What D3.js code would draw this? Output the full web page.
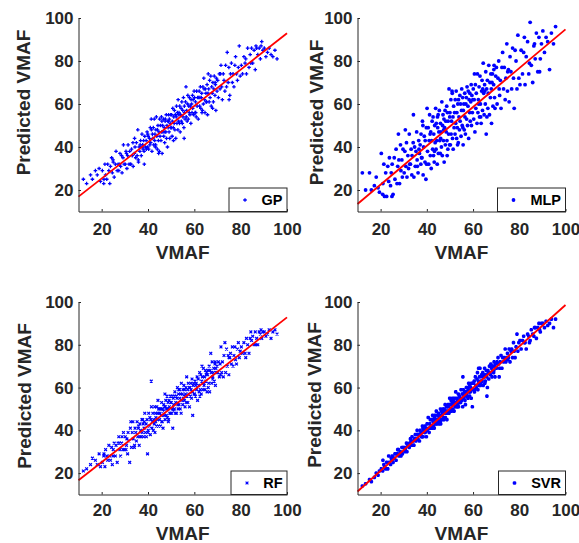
<!DOCTYPE html>
<html><head><meta charset="utf-8">
<script src="https://cdn.jsdelivr.net/npm/d3@7"></script>
<style>
body{margin:0;background:#fff}
svg{display:block}
text{font-family:"Liberation Sans",Arial,Helvetica,sans-serif;font-weight:bold}
</style>
</head><body>
<svg id="chart" width="579" height="543"></svg>
<script>
// ---- data ----
const vmaf = [
12.1,13.5,15.2,16.0,17.3,18.1,18.9,19.5,
20.3,20.9,21.4,21.7,22.2,22.6,23.1,23.5,23.8,24.3,24.6,25.0,25.4,25.9,26.2,26.7,27.1,27.4,27.9,28.2,28.6,28.8,29.2,29.4,29.7,21.0,24.9,27.7,
30.2,30.5,30.9,31.2,31.4,31.8,32.1,32.4,32.9,33.2,33.5,33.6,34.1,34.4,34.7,35.0,35.3,35.6,35.8,36.2,36.5,36.8,37.1,37.4,37.5,37.9,38.1,38.4,38.6,38.9,39.2,39.3,39.6,39.8,30.7,32.6,34.2,35.9,36.6,37.7,38.3,39.9,
40.1,40.3,40.6,40.8,41.0,41.2,41.5,41.7,41.9,42.1,42.3,42.5,42.7,42.9,43.0,43.2,43.4,43.6,43.8,44.0,44.1,44.3,44.5,44.7,44.9,45.0,45.2,45.4,45.6,45.8,45.9,46.1,46.3,46.5,46.7,46.8,47.0,47.2,47.4,47.5,47.7,47.9,48.0,48.2,48.4,48.6,48.7,48.9,49.1,49.2,49.4,49.6,49.8,49.9,41.4,43.3,44.6,46.0,47.3,48.8,
50.0,50.2,50.4,50.5,50.7,50.9,51.1,51.3,51.4,51.6,51.8,52.0,52.2,52.3,52.5,52.7,52.9,53.0,53.2,53.4,53.6,53.7,53.9,54.1,54.3,54.4,54.6,54.8,55.0,55.1,55.3,55.5,55.7,55.8,56.0,56.2,56.4,56.5,56.7,56.9,57.1,57.2,57.4,57.6,57.8,57.9,58.1,58.3,58.5,58.6,58.8,59.0,59.2,59.3,59.5,59.7,59.9,51.0,53.3,55.6,
60.1,60.3,60.5,60.8,61.0,61.2,61.4,61.7,61.9,62.1,62.3,62.6,62.8,63.0,63.2,63.5,63.7,63.9,64.1,64.4,64.6,64.8,65.0,65.3,65.5,65.7,65.9,66.2,66.4,66.6,66.8,67.1,67.3,67.5,67.7,68.0,68.2,68.4,68.6,68.9,69.1,69.3,69.5,69.8,60.6,62.4,63.3,64.2,65.1,66.0,67.9,69.0,
70.1,70.4,70.8,71.1,71.5,71.8,72.1,72.5,72.8,73.2,73.5,73.9,74.2,74.6,74.9,75.3,75.6,76.0,76.4,76.7,77.1,77.5,77.8,78.2,78.6,79.0,79.4,79.8,71.3,75.0,
80.3,80.8,81.4,81.9,82.5,83.0,83.6,84.1,84.7,85.2,85.8,86.3,86.9,87.4,88.0,88.5,89.1,89.6,82.2,84.4,86.6,88.8,
90.2,90.9,91.6,92.3,93.1,93.9,94.8,95.7
];
const gpPred = [
25,23,27,25,29,27,30,24,
29,23,32,27,25,32,29,23,31,35,28,33,26,32,38,29,32,29,37,31,36,28,35,41,32,25,34,32,
32,38,30,36,41,32,38,32,39,36,42,31,37,40,35,42,36,48,34,40,38,43,36,46,40,39,43,32,45,40,43,39,47,40,37,32,44,33,41,41,38,46,
45,39,44,41,49,42,48,38,46,44,49,41,53,43,46,40,48,54,45,39,48,50,43,47,38,53,45,50,43,54,47,37,50,47,53,45,49,42,52,53,47,55,44,50,40,52,49,55,47,53,44,51,55,49,53,41,37,52,47,52,
49,55,45,52,58,49,54,51,57,48,55,44,54,59,51,56,48,62,52,56,51,59,47,55,58,52,61,51,57,54,63,49,59,56,53,61,68,54,57,52,60,64,53,59,56,63,55,59,51,62,60,56,64,58,62,55,66,43,55,44,
63,56,61,54,66,59,63,53,63,66,59,68,58,63,65,57,68,60,72,62,56,67,65,61,69,55,65,67,61,71,63,73,59,68,65,70,61,67,73,64,69,57,72,66,56,63,56,67,61,74,58,70,
71,63,74,67,78,68,62,74,71,66,78,68,84,70,77,64,74,79,70,74,68,78,82,74,71,77,87,73,74,62,
78,74,82,79,74,86,77,83,86,79,85,76,86,83,86,81,89,85,81,79,87,87,
86,82,84,86,83,82,85,81
];
const mlpPred = [
28,20,28,20,22,26,21,19,
37,18,32,17,28,17,31,24,35,22,28,32,18,35,25,39,23,31,34,23,41,29,34,26,39,23,17,46,
28,38,31,42,26,36,30,46,32,39,27,36,42,26,40,31,38,47,34,28,43,37,41,32,46,35,52,27,40,45,33,43,25,49,48,32,55,31,39,35,50,32,
58,38,49,32,43,55,36,47,30,43,52,39,54,36,46,33,50,42,58,39,51,43,32,49,55,37,47,57,43,37,51,47,40,61,36,50,55,43,53,33,49,57,41,52,47,59,43,56,39,52,46,67,41,54,46,38,54,44,48,36,
56,41,62,46,52,66,44,54,39,59,49,56,46,62,51,66,44,56,49,60,42,62,54,48,64,52,60,45,57,67,50,63,41,57,60,48,65,54,46,60,63,53,68,50,59,66,44,62,56,65,52,61,69,50,64,56,62,65,41,49,
67,53,62,47,69,58,65,51,74,56,62,68,54,73,60,51,66,71,57,79,65,55,69,60,75,46,67,71,58,65,78,55,70,63,74,51,70,74,59,69,78,63,58,73,74,60,54,67,66,54,67,76,
77,60,72,80,64,71,58,77,84,67,77,62,72,88,66,76,61,82,75,67,86,72,58,85,80,67,92,72,67,75,
69,85,74,84,69,82,89,74,98,78,70,87,81,93,75,91,81,88,91,79,88,75,
94,84,91,89,76,93,88,96
];
const rfPred = [
21,22,24,27,26,24,29,23,
25,28,23,31,28,26,33,28,26,32,24,31,34,28,33,25,34,37,31,28,34,37,31,39,31,29,28,34,
37,31,36,29,39,35,25,41,32,39,44,36,32,41,39,35,44,37,41,33,43,40,37,45,39,43,37,44,48,39,43,37,45,29,33,44,33,42,37,45,41,39,
40,48,42,46,38,45,51,41,44,48,40,45,43,51,39,48,46,42,51,48,45,54,42,48,50,45,48,42,50,47,53,44,50,41,49,52,47,51,45,51,54,47,50,56,46,50,53,45,54,51,48,56,48,53,63,44,50,44,57,44,
53,48,56,50,41,55,52,56,50,58,48,53,56,48,55,60,52,50,57,52,59,55,50,57,48,62,54,57,52,59,55,61,54,59,51,57,60,53,65,56,59,53,62,57,60,51,60,56,62,59,55,64,58,47,61,62,57,49,59,56,
57,63,56,62,59,65,54,64,61,58,67,59,66,57,63,65,59,69,62,65,59,68,63,67,58,66,68,62,70,58,68,76,67,62,72,64,67,69,63,71,61,69,67,70,61,56,70,61,66,60,65,72,
67,72,65,71,79,67,72,65,75,81,67,78,70,75,66,74,76,71,79,70,75,79,73,71,78,81,74,77,66,74,
79,76,81,76,83,80,76,83,82,84,80,86,83,80,86,85,83,86,74,86,80,87,
86,84,85,87,83,86,87,85
];
const svrPred = [
14,15,17,16,18,20,19,21,
22,21,24,23,22,25,22,28,25,24,27,28,25,27,29,26,29,31,28,29,30,28,32,29,32,26,26,31,
32,30,32,34,30,33,33,32,36,35,33,37,35,33,36,38,35,36,40,36,38,35,40,38,39,37,42,37,40,39,42,39,41,37,31,34,33,38,38,37,41,40,
43,40,46,41,39,43,45,41,42,45,41,47,44,42,45,41,44,47,43,45,49,43,45,47,44,48,43,46,47,44,50,45,49,47,45,48,50,46,45,50,48,52,46,49,48,51,45,49,52,48,51,48,52,55,41,46,45,43,49,51,
49,52,50,54,49,52,55,50,54,52,49,55,53,51,58,53,51,55,54,52,57,51,54,56,53,55,53,59,55,54,57,51,57,59,55,56,58,54,52,58,60,57,56,60,55,59,62,58,56,61,58,60,55,62,59,51,62,53,51,65,
62,59,63,59,65,61,60,64,67,59,63,61,65,69,61,63,66,63,65,61,66,65,69,63,66,68,65,60,68,67,64,70,67,66,71,69,65,70,68,67,72,70,65,71,58,69,62,67,62,56,70,68,
69,72,74,71,69,72,75,69,74,72,74,78,72,74,76,74,78,72,77,78,74,81,77,74,79,85,77,81,65,73,
82,78,82,84,81,78,85,84,82,87,85,84,88,83,88,90,86,90,81,81,88,87,
90,88,91,89,90,92,88,92
];
const models = ["GP","MLP","RF","SVR"];
const markerTypes = ["plus","dot","cross","star"];
const fitAt10 = [16.9,13.5,16.7,11.4];
const fitAt100 = [92.9,94.7,92.8,98.6];
const xTicks = [20,40,60,80,100];
const yTicks = [20,40,60,80,100];
const xLabel = "VMAF";
const yLabel = "Predicted VMAF";
const preds = [gpPred, mlpPred, rfPred, svrPred];

// ---- layout ----
const layout = [
  {l:78.5, r:287,   t:18,  b:211.5, ylx:23,    yly:102.5, xty:229.5, xly:252},
  {l:357.5,r:565.5, t:18,  b:211.5, ylx:316,   yly:112.5, xty:229.5, xly:252},
  {l:78.5, r:287,   t:302, b:494.5, ylx:24.5,  yly:396,   xty:510,   xly:533},
  {l:357.5,r:565.5, t:302, b:494.5, ylx:314.5, yly:395,   xty:510,   xly:533}
];
const AX = "#262626", BLUE = "#0000ff", RED = "#ff0000";

function markerPath(type, s) {
  if (type === "plus") return `M${-s},0H${s}M0,${-s}V${s}`;
  if (type === "cross") return `M${-s},${-s}L${s},${s}M${-s},${s}L${s},${-s}`;
  if (type === "star") { const d = s*0.75; return `M${-s},0H${s}M0,${-s}V${s}M${-d},${-d}L${d},${d}M${-d},${d}L${d},${-d}`; }
  return "";
}
function drawMarker(g, type, x, y) {
  if (type === "dot") {
    g.append("circle").attr("cx", x).attr("cy", y).attr("r", 1.9).attr("fill", BLUE);
  } else {
    const s = type === "plus" ? 1.8 : type === "cross" ? 1.4 : 1.8;
    g.append("path").attr("d", markerPath(type, s)).attr("transform", `translate(${x},${y})`)
      .attr("stroke", BLUE).attr("stroke-width", type === "cross" ? 1.2 : 1.3).attr("fill", "none");
  }
}

const svg = d3.select("#chart");
svg.append("rect").attr("width", 579).attr("height", 543).attr("fill", "#fff");

models.forEach((name, i) => {
  const L = layout[i];
  const x = d3.scaleLinear().domain([10, 100]).range([L.l, L.r]);
  const y = d3.scaleLinear().domain([10, 100]).range([L.b, L.t]);
  const g = svg.append("g");

  // points
  const pts = g.append("g");
  vmaf.forEach((v, k) => drawMarker(pts, markerTypes[i], x(v), y(preds[i][k])));

  // fit line
  g.append("line")
    .attr("x1", x(10)).attr("y1", y(fitAt10[i]))
    .attr("x2", x(100)).attr("y2", y(fitAt100[i]))
    .attr("stroke", RED).attr("stroke-width", 1.8);

  // axes
  const ya = g.append("g").attr("transform", `translate(${L.l},0)`)
    .call(d3.axisLeft(y).tickValues(yTicks).tickSize(-2.5).tickSizeOuter(0).tickPadding(5));
  const xa = g.append("g").attr("transform", `translate(0,${L.b})`)
    .call(d3.axisBottom(x).tickValues(xTicks).tickSize(-2.5).tickSizeOuter(0));
  [ya, xa].forEach(a => {
    a.select(".domain").attr("stroke", AX);
    a.selectAll(".tick line").attr("stroke", AX);
    a.selectAll("text").attr("fill", AX).style("font-size", "17px")
      .style("font-family", '"Liberation Sans", Arial, sans-serif').style("font-weight", "bold");
  });
  xa.selectAll("text").attr("y", L.xty - L.b).attr("dy", "0.35em");

  // labels
  g.append("text").attr("x", (L.l + L.r) / 2).attr("y", L.xly).attr("dy", "0.35em")
    .attr("text-anchor", "middle").attr("fill", AX).style("font-size", "19px").text(xLabel);
  g.append("text").attr("transform", `translate(${L.ylx},${L.yly}) rotate(-90)`).attr("dy", "0.35em")
    .attr("text-anchor", "middle").attr("fill", AX).style("font-size", "19px").text(yLabel);

  // legend
  const lg = g.append("g");
  const box = lg.append("rect");
  const txt = lg.append("text").attr("text-anchor", "end").attr("x", L.r - 4.5)
    .attr("y", L.b - 11.5).attr("dy", "0.35em").attr("fill", "#000").style("font-size", "14.5px").text(name);
  const tw = txt.node().getComputedTextLength();
  const w = Math.round(tw + 37);
  box.attr("x", L.r - w).attr("y", L.b - 23.5).attr("width", w).attr("height", 23.5)
    .attr("fill", "#fff").attr("stroke", AX).attr("stroke-width", 1);
  drawMarker(lg, markerTypes[i], L.r - w + 16, L.b - 11.5);
});
</script>
</body></html>
